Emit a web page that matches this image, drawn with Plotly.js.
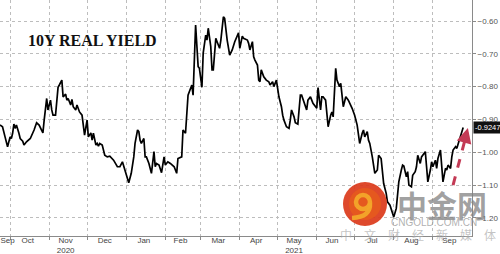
<!DOCTYPE html>
<html>
<head>
<meta charset="utf-8">
<script src="https://cdn.plot.ly/plotly-3.0.1.min.js"></script>
<style>
  html, body { margin: 0; padding: 0; background: #fff; }
  #chart { width: 500px; height: 254px; }
</style>
</head>
<body>
<div id="chart"></div>
<script>
// ---- Data ----
const dates = [
 '2020-09-23','2020-09-25','2020-09-27','2020-09-29','2020-10-01','2020-10-02','2020-10-03','2020-10-04','2020-10-05','2020-10-06',
 '2020-10-08','2020-10-09','2020-10-11','2020-10-12','2020-10-14','2020-10-17','2020-10-20','2020-10-22','2020-10-24','2020-10-27',
 '2020-10-28','2020-10-30','2020-10-31','2020-11-02','2020-11-03','2020-11-04','2020-11-06','2020-11-08','2020-11-09','2020-11-11',
 '2020-11-12','2020-11-14','2020-11-15','2020-11-16','2020-11-18','2020-11-19','2020-11-20','2020-11-22','2020-11-23','2020-11-25',
 '2020-11-27','2020-11-28','2020-11-29','2020-12-01','2020-12-02','2020-12-04','2020-12-05','2020-12-06','2020-12-08','2020-12-09',
 '2020-12-10','2020-12-11','2020-12-13','2020-12-15','2020-12-17','2020-12-19','2020-12-22','2020-12-25','2020-12-27','2020-12-29',
 '2020-12-31','2021-01-02','2021-01-03','2021-01-05','2021-01-07','2021-01-08','2021-01-10','2021-01-11','2021-01-12','2021-01-13',
 '2021-01-15','2021-01-16','2021-01-17','2021-01-19','2021-01-21','2021-01-23','2021-01-24','2021-01-25','2021-01-27','2021-01-29',
 '2021-01-30','2021-01-31','2021-02-01','2021-02-03','2021-02-05','2021-02-08','2021-02-10','2021-02-11','2021-02-14','2021-02-15',
 '2021-02-17','2021-02-18','2021-02-19','2021-02-22','2021-02-23','2021-02-25','2021-02-27','2021-02-28','2021-03-02','2021-03-03',
 '2021-03-05','2021-03-06','2021-03-07','2021-03-09','2021-03-10','2021-03-11','2021-03-13','2021-03-14','2021-03-16','2021-03-17',
 '2021-03-19','2021-03-20','2021-03-22','2021-03-24','2021-03-26','2021-03-28','2021-03-30','2021-03-31','2021-04-01','2021-04-03',
 '2021-04-04','2021-04-07','2021-04-08','2021-04-09','2021-04-11','2021-04-12','2021-04-13','2021-04-15','2021-04-16','2021-04-17',
 '2021-04-18','2021-04-20','2021-04-22','2021-04-24','2021-04-25','2021-04-27','2021-04-28','2021-04-30','2021-05-02','2021-05-04',
 '2021-05-05','2021-05-06','2021-05-08','2021-05-10','2021-05-11','2021-05-12','2021-05-14','2021-05-15','2021-05-17','2021-05-19',
 '2021-05-20','2021-05-22','2021-05-24','2021-05-25','2021-05-27','2021-05-29','2021-05-30','2021-06-01','2021-06-02','2021-06-04',
 '2021-06-05','2021-06-06','2021-06-08','2021-06-10','2021-06-12','2021-06-13','2021-06-14','2021-06-16','2021-06-17','2021-06-19',
 '2021-06-20','2021-06-22','2021-06-24','2021-06-26','2021-06-29','2021-07-01','2021-07-03','2021-07-05','2021-07-07','2021-07-08',
 '2021-07-09','2021-07-11','2021-07-12','2021-07-13','2021-07-15','2021-07-16','2021-07-17','2021-07-19','2021-07-20','2021-07-22',
 '2021-07-23','2021-07-24','2021-07-26','2021-07-27','2021-07-29','2021-07-30','2021-08-01','2021-08-03','2021-08-04','2021-08-05',
 '2021-08-07','2021-08-08','2021-08-09','2021-08-11','2021-08-12','2021-08-13','2021-08-15','2021-08-16','2021-08-18','2021-08-19',
 '2021-08-20','2021-08-22','2021-08-23','2021-08-24','2021-08-26','2021-08-27','2021-08-28','2021-08-30','2021-08-31','2021-09-01',
 '2021-09-03','2021-09-04','2021-09-05','2021-09-07','2021-09-08','2021-09-09','2021-09-11','2021-09-12','2021-09-13','2021-09-15',
 '2021-09-16','2021-09-17','2021-09-19','2021-09-20','2021-09-21','2021-09-23','2021-09-25'
];
const realYield = [
 -0.917,-0.922,-0.953,-0.983,-0.953,-0.958,-0.942,-0.914,-0.927,-0.917,
 -0.942,-0.958,-0.966,-0.978,-0.968,-0.958,-0.932,-0.910,-0.917,-0.941,
 -0.902,-0.836,-0.871,-0.841,-0.871,-0.887,-0.887,-0.802,-0.795,-0.780,
 -0.831,-0.823,-0.841,-0.836,-0.856,-0.839,-0.861,-0.871,-0.856,-0.877,
 -0.887,-0.927,-0.948,-0.902,-0.953,-0.941,-0.963,-0.942,-0.978,-0.973,
 -0.981,-0.973,-0.978,-1.009,-1.014,-1.012,-1.024,-1.044,-1.044,-1.029,
 -1.054,-1.075,-1.093,-1.064,-1.014,-0.973,-0.932,-0.937,-0.963,-0.973,
 -0.958,-1.014,-1.014,-1.034,-1.064,-0.998,-1.044,-1.034,-1.039,-1.062,
 -1.039,-1.014,-1.039,-1.029,-1.034,-1.044,-1.064,-1.019,-1.014,-0.932,
 -0.942,-0.892,-0.826,-0.795,-0.826,-0.612,-0.739,-0.744,-0.802,-0.698,
 -0.643,-0.658,-0.622,-0.678,-0.749,-0.749,-0.653,-0.663,-0.683,-0.658,
 -0.587,-0.592,-0.658,-0.704,-0.688,-0.663,-0.643,-0.636,-0.683,-0.646,
 -0.653,-0.658,-0.668,-0.688,-0.663,-0.709,-0.719,-0.734,-0.780,-0.785,
 -0.749,-0.770,-0.780,-0.785,-0.795,-0.785,-0.800,-0.780,-0.831,-0.861,
 -0.887,-0.902,-0.922,-0.927,-0.902,-0.871,-0.892,-0.910,-0.914,-0.826,
 -0.826,-0.851,-0.871,-0.841,-0.831,-0.851,-0.856,-0.866,-0.803,-0.871,
 -0.831,-0.831,-0.841,-0.922,-0.887,-0.877,-0.892,-0.744,-0.780,-0.800,
 -0.790,-0.861,-0.831,-0.841,-0.866,-0.887,-0.917,-0.973,-0.942,-0.932,
 -0.953,-0.937,-0.963,-0.973,-1.014,-1.039,-1.064,-1.054,-1.009,-1.019,
 -1.064,-1.095,-1.125,-1.151,-1.161,-1.176,-1.197,-1.171,-1.125,-1.090,
 -1.054,-1.039,-1.042,-1.075,-1.059,-1.100,-1.105,-1.070,-1.059,-1.044,
 -1.009,-1.034,-1.014,-1.009,-0.998,-1.044,-1.090,-1.054,-1.029,-1.044,
 -1.024,-1.049,-1.019,-0.993,-1.039,-1.090,-1.049,-1.054,-1.039,-1.049,
 -1.014,-0.993,-0.983,-0.988,-0.975,-0.953,-0.9247
];
const monthLabelDates = ['2020-09-29','2020-10-15','2020-11-14','2020-12-15','2021-01-15','2021-02-13','2021-03-15',
                         '2021-04-14','2021-05-14','2021-06-13','2021-07-15','2021-08-15','2021-09-14'];
const monthLabels = ['Sep','Oct','Nov<br>2020','Dec','Jan','Feb','Mar','Apr','May<br>2021','Jun','Jul','Aug','Sep'];
const monthStarts = ['2020-10-01','2020-11-01','2020-12-01','2021-01-01','2021-02-01','2021-03-01','2021-04-01',
                     '2021-05-01','2021-06-01','2021-07-01','2021-08-01','2021-09-01'];
const yTicks = [-0.60,-0.70,-0.80,-0.90,-1.00,-1.10,-1.20];
const lastLabel = '-0.9247';
const titleText = '10Y REAL YIELD';

const xRange = ['2020-09-23', '2021-10-02'];
const yRange = [-1.255, -0.536];

// arrow (annotation) end points
const arrowTail = {x: '2021-09-17', y: -1.10};
const arrowShaftEnd = {x: '2021-09-27T06:00', y: -0.950};
const arrowTip = {x: '2021-09-28T18:00', y: -0.926};
const arrowColor = '#c33a55';

const trace = {
  x: dates, y: realYield, type: 'scatter', mode: 'lines',
  line: {color: '#000', width: 1.7}, hoverinfo: 'skip'
};

const W = 472, H = 236; // plot area px for paper conversions
const px = v => v / W, py = v => 1 - v / H;

const layout = {
  width: 500, height: 254,
  margin: {l: 0, r: 28, t: 0, b: 18, pad: 0},
  paper_bgcolor: '#fff', plot_bgcolor: '#fff',
  showlegend: false,
  font: {family: 'Liberation Sans, Arial, sans-serif', size: 8, color: '#555'},
  xaxis: {
    type: 'date', range: xRange,
    tickmode: 'array', tickvals: monthLabelDates, ticktext: monthLabels,
    ticks: '', showgrid: false, zeroline: false, ticklabelstandoff: -4,
    showline: true, linecolor: '#8a8a8a', linewidth: 1,
    tickfont: {size: 8, color: '#444', lineposition: 'none'},
    minor: {tickmode: 'array', tickvals: monthStarts, ticks: 'outside', ticklen: 3,
            tickcolor: '#8a8a8a', showgrid: true, gridcolor: '#bdbdbd', griddash: 'dot', gridwidth: 1}
  },
  yaxis: {
    side: 'right', range: yRange,
    tickmode: 'array', tickvals: yTicks, tickformat: '.2f',
    ticks: 'outside', ticklen: 3, tickcolor: '#8a8a8a',
    showgrid: true, gridcolor: '#bdbdbd', griddash: 'dot', gridwidth: 1,
    zeroline: false, showline: true, linecolor: '#8a8a8a', linewidth: 1,
    tickfont: {size: 8, color: '#555'}
  },
  shapes: [
    // dashed arrow shaft
    {type: 'line', xref: 'x', yref: 'y', x0: arrowTail.x, y0: arrowTail.y, x1: arrowShaftEnd.x, y1: arrowShaftEnd.y,
     line: {color: arrowColor, width: 3, dash: 'dash'}},
    // watermark logo
    {type: 'circle', xref: 'paper', yref: 'paper', layer: 'above',
     x0: px(343), x1: px(387), y0: py(226), y1: py(182),
     fillcolor: '#db3a1a', line: {width: 0}, opacity: 0.92},
    {type: 'circle', xref: 'paper', yref: 'paper', layer: 'above',
     x0: px(349), x1: px(381), y0: py(220), y1: py(188),
     fillcolor: '#e65a1e', line: {width: 0}, opacity: 0.9},
    {type: 'circle', xref: 'paper', yref: 'paper', layer: 'above',
     x0: px(356), x1: px(370), y0: py(209), y1: py(195),
     fillcolor: 'rgba(0,0,0,0)', line: {color: '#f4a72a', width: 4.5}, opacity: 0.95},
    {type: 'path', xref: 'paper', yref: 'paper', layer: 'above',
     path: `M ${px(370)},${py(203)} Q ${px(371)},${py(217)} ${px(352)},${py(218)}`,
     line: {color: '#f4a72a', width: 4.5}, opacity: 0.95}
  ],
  annotations: [
    {xref: 'paper', yref: 'paper', x: px(92), y: py(41), text: '<b>' + titleText + '</b>', showarrow: false,
     font: {family: 'Liberation Serif, Times New Roman, serif', size: 16, color: '#111'},
     xanchor: 'center', yanchor: 'middle'},
    {xref: 'paper', yref: 'y', x: 1, y: realYield[realYield.length - 1], text: lastLabel, showarrow: false,
     xanchor: 'left', yanchor: 'middle', xshift: 1, bgcolor: '#111', borderpad: 1,
     font: {size: 7.5, color: '#fff'}},
    {xref: 'x', yref: 'y', x: arrowTip.x, y: arrowTip.y, ax: -4, ay: 15, text: '', showarrow: true,
     arrowhead: 2, arrowsize: 1, arrowwidth: 3, arrowcolor: arrowColor},
    // watermark texts
    {xref: 'paper', yref: 'paper', x: px(442), y: py(204), text: '<b>中金网</b>', showarrow: false,
     font: {family: 'Noto Sans CJK SC', size: 30, color: 'rgba(130,130,130,0.75)'},
     xanchor: 'center', yanchor: 'middle'},
    {xref: 'paper', yref: 'paper', x: px(434), y: py(222.5), text: 'CNGOLD.COM.CN', showarrow: false,
     font: {family: 'Liberation Sans, Arial', size: 10, color: 'rgba(150,150,150,0.75)'},
     xanchor: 'center', yanchor: 'middle'},
    {xref: 'paper', yref: 'paper', x: px(418), y: py(234), text: '中　文　财　经　新　媒　体', showarrow: false,
     font: {family: 'Noto Sans CJK SC', size: 12, color: 'rgba(170,170,170,0.7)'},
     xanchor: 'center', yanchor: 'middle'}
  ]
};

Plotly.newPlot('chart', [trace], layout, {displayModeBar: false, staticPlot: true});
</script>
</body>
</html>
